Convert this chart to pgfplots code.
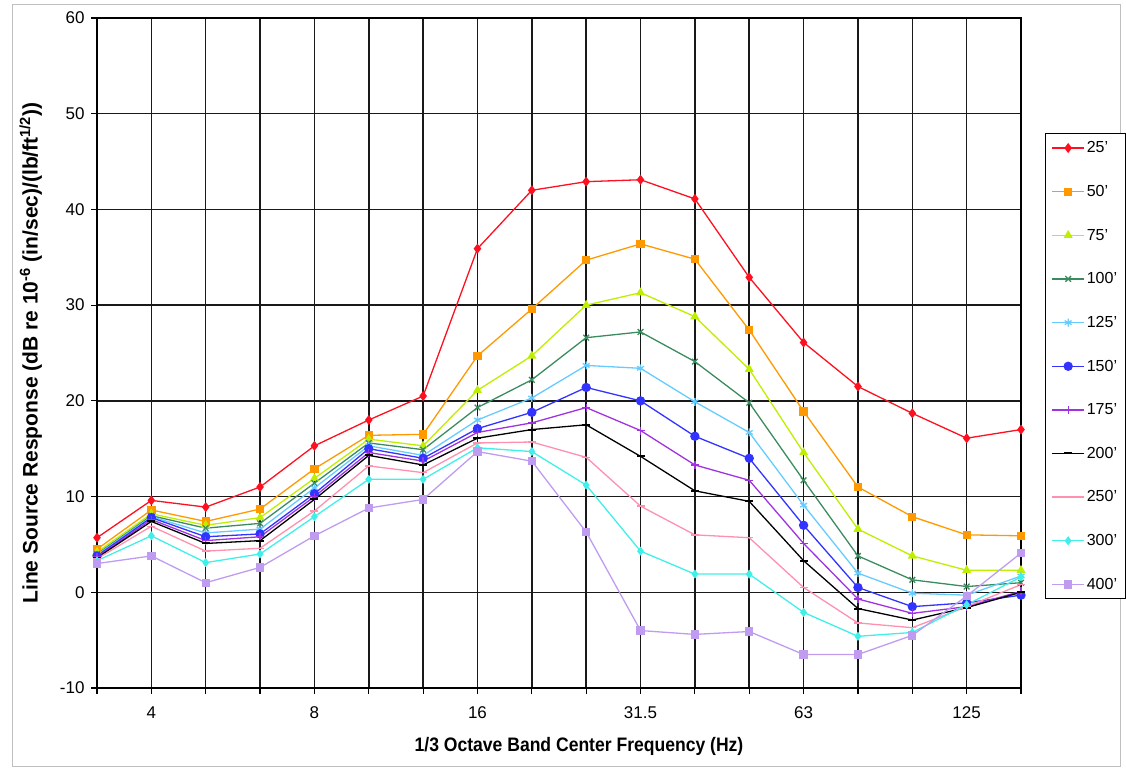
\documentclass[border=0pt]{standalone}
\usepackage{fontspec}
\setmainfont{Liberation Sans}
\usepackage{pgfplots}
\pgfplotsset{compat=1.18}
\usepackage{pgfplotstable}

\definecolor{c25}{HTML}{FF1020}
\definecolor{c50}{HTML}{FF9900}
\definecolor{c75}{HTML}{BFEF00}
\definecolor{c100}{HTML}{3A8C5E}
\definecolor{c125}{HTML}{66CCFF}
\definecolor{c150}{HTML}{3333FF}
\definecolor{c175}{HTML}{A033E0}
\definecolor{c200}{HTML}{000000}
\definecolor{c250}{HTML}{FF90B0}
\definecolor{c300}{HTML}{40F0E8}
\definecolor{c400}{HTML}{C09CF0}

\pgfplotstableread{
i  a25  a50  a75  a100 a125 a150 a175 a200 a250 a300 a400
0  5.7  4.5  4.2  4.0  3.9  3.8  3.7  3.6  3.5  3.3  3.0
1  9.6  8.6  8.2  8.0  7.9  7.8  7.6  7.4  6.9  5.9  3.8
2  8.9  7.4  7.0  6.7  6.2  5.8  5.4  5.1  4.3  3.1  1.0
3  11.0 8.7  7.8  7.2  6.6  6.1  5.8  5.4  4.6  4.0  2.6
4  15.3 12.9 11.9 11.4 10.9 10.3 10.0 9.7  8.5  7.9  5.9
5  18.0 16.4 16.0 15.6 15.3 15.0 14.6 14.3 13.2 11.8 8.8
6  20.5 16.5 15.3 14.9 14.3 14.0 13.7 13.3 12.5 11.8 9.7
7  35.9 24.7 21.1 19.3 18.0 17.1 16.7 16.1 15.6 15.1 14.7
8  42.0 29.6 24.7 22.2 20.3 18.8 17.7 17.0 15.7 14.7 13.7
9  42.9 34.7 30.0 26.6 23.7 21.4 19.3 17.5 14.1 11.2 6.3
10 43.1 36.4 31.3 27.2 23.4 20.0 16.9 14.2 9.0  4.3  -4.0
11 41.1 34.8 28.8 24.1 19.9 16.3 13.3 10.6 6.0  1.9  -4.4
12 32.9 27.4 23.3 19.8 16.7 14.0 11.7 9.5  5.7  1.9  -4.1
13 26.1 18.9 14.6 11.7 9.1  7.0  5.1  3.3  0.5  -2.1 -6.5
14 21.5 11.0 6.6  3.8  2.0  0.5  -0.7 -1.7 -3.2 -4.6 -6.5
15 18.7 7.9  3.8  1.3  -0.1 -1.5 -2.2 -2.9 -3.7 -4.2 -4.5
16 16.1 6.0  2.3  0.6  -0.3 -1.1 -1.5 -1.6 -1.5 -1.3 -0.4
17 17.0 5.9  2.3  1.0  1.7  -0.3 0.1  0.0  0.8  1.6  4.1
}\datatable

\begin{document}
\begin{tikzpicture}
\path[use as bounding box] (-97pt,-82pt) rectangle (1029pt,688pt);
\draw[black!25, line width=0.8pt] (-85pt,-78pt) rectangle (1023pt,684pt);
\begin{axis}[
  scale only axis,
  width=924pt, height=670pt,
  xmin=0, xmax=17, ymin=-10, ymax=60,
  xtick={0,...,17},
  xticklabels={,4,,,8,,,16,,,31.5,,,63,,,125,},
  ytick={-10,0,...,60},
  grid=major,
  major grid style={black!90, line width=1.5pt},
  axis line style={black, line width=1.5pt},
  tick align=outside,
  tick style={black, line width=1.2pt},
  major tick length=6pt,
  tick pos=left,
  /pgf/number format/assume math mode=true,
  tick label style={font=\fontsize{17}{20}\selectfont},
  xticklabel style={yshift=-9pt},
  yticklabel style={xshift=-3pt},
  xlabel={\scalebox{0.9}[1]{\bfseries 1/3 Octave Band Center Frequency (Hz)}},
  ylabel={\bfseries Line Source Response (dB re 10\textsuperscript{-6} (in/sec)/(lb/ft\textsuperscript{1/2}))},
  xlabel style={font=\fontsize{19.5}{22}\selectfont, yshift=-12pt, xshift=20pt},
  ylabel style={font=\fontsize{21}{24}\selectfont, yshift=11pt},
  every axis plot/.append style={line width=1.3pt},
  legend style={at={(axis description cs:1.026,0.828)}, anchor=north west,
    draw=black, line width=1pt, fill=white,
    font=\fontsize{16}{19}\selectfont,
    row sep=27pt, inner sep=6pt,
    cells={anchor=west}},
  legend cell align=left,
  legend image code/.code={\draw[mark repeat=2,mark phase=2,#1] plot coordinates {(0pt,0pt)(16pt,0pt)(32pt,0pt)};},
]
\addplot[color=c25, mark=diamond*, mark size=4pt] table[x=i,y=a25]{\datatable};
\addlegendentry{25'}
\addplot[color=c50, mark=square*, mark size=3.5pt] table[x=i,y=a50]{\datatable};
\addlegendentry{50'}
\addplot[color=c75, mark=triangle*, mark size=4pt] table[x=i,y=a75]{\datatable};
\addlegendentry{75'}
\addplot[color=c100, mark=x, mark size=4pt] table[x=i,y=a100]{\datatable};
\addlegendentry{100'}
\addplot[color=c125, mark=asterisk, mark size=4pt] table[x=i,y=a125]{\datatable};
\addlegendentry{125'}
\addplot[color=c150, mark=*, mark size=4pt] table[x=i,y=a150]{\datatable};
\addlegendentry{150'}
\addplot[color=c175, mark=+, mark size=4pt] table[x=i,y=a175]{\datatable};
\addlegendentry{175'}
\addplot[color=c200, mark=-, mark size=4pt, mark options={line width=2pt}] table[x=i,y=a200]{\datatable};
\addlegendentry{200'}
\addplot[color=c250, mark=-, mark size=4pt] table[x=i,y=a250]{\datatable};
\addlegendentry{250'}
\addplot[color=c300, mark=diamond*, mark size=3.5pt] table[x=i,y=a300]{\datatable};
\addlegendentry{300'}
\addplot[color=c400, mark=square*, mark size=3.5pt] table[x=i,y=a400]{\datatable};
\addlegendentry{400'}
\end{axis}
\end{tikzpicture}
\end{document}
